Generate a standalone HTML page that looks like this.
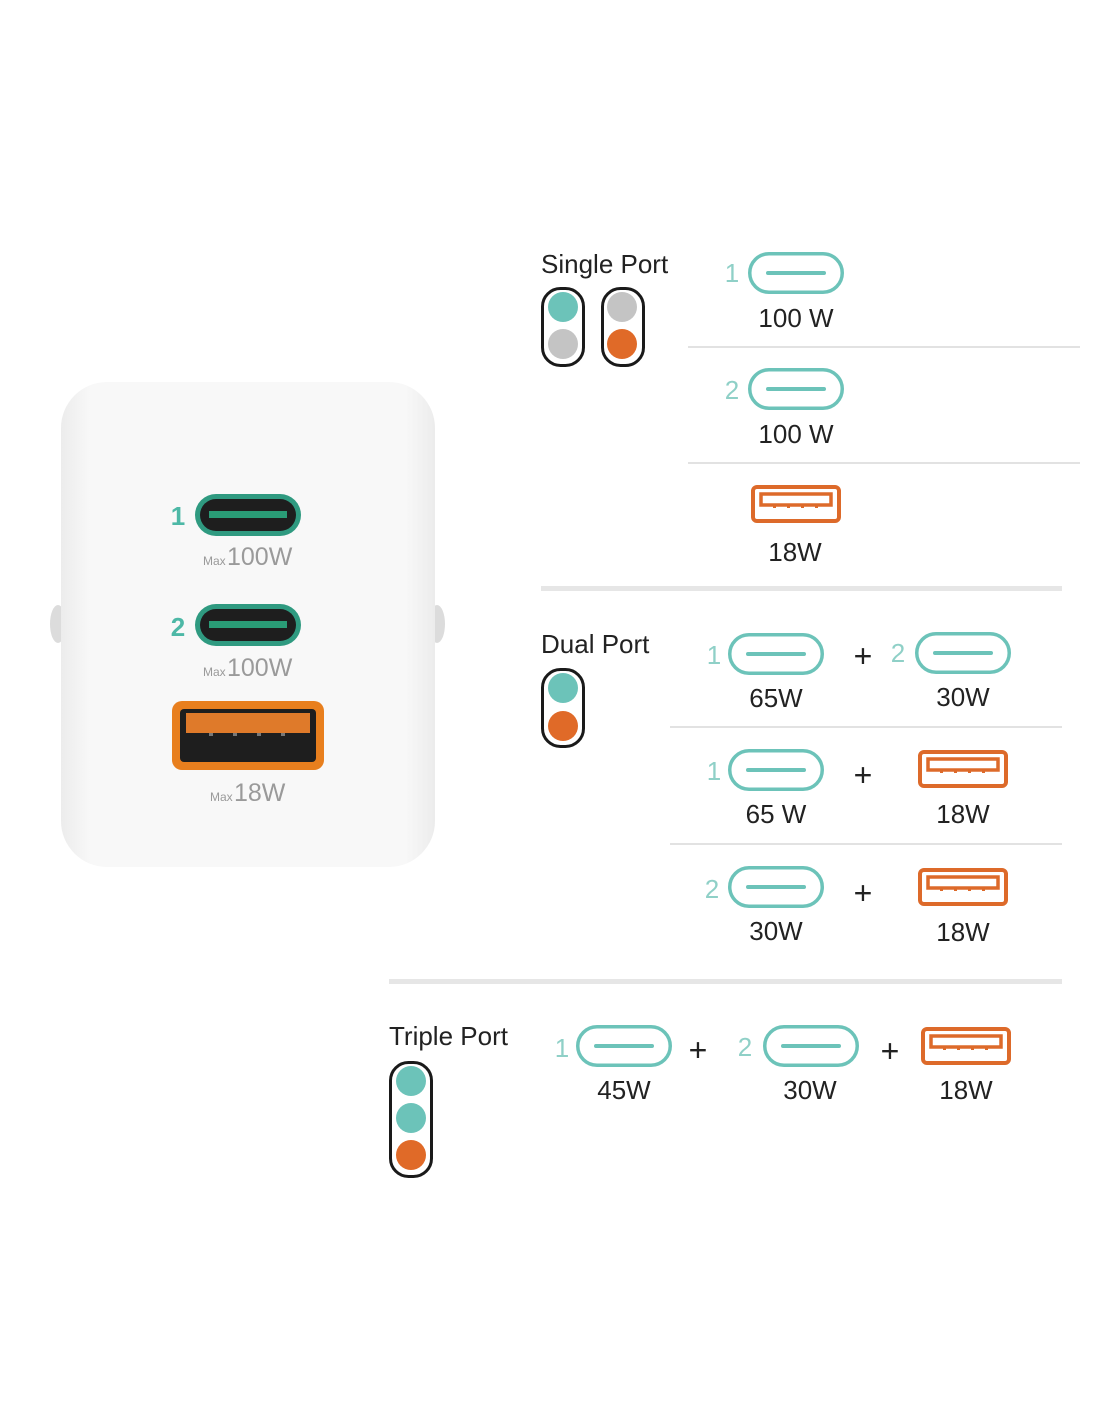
<!DOCTYPE html>
<html><head><meta charset="utf-8"><style>
html,body{margin:0;padding:0;background:#fff;}
svg{display:block}
text{font-family:"Liberation Sans",sans-serif;}
</style></head><body>
<svg width="1100" height="1422" viewBox="0 0 1100 1422" xmlns="http://www.w3.org/2000/svg">
<defs>
<linearGradient id="bg" x1="0" x2="1" y1="0" y2="0">
<stop offset="0" stop-color="#ececec"/><stop offset="0.08" stop-color="#f8f8f8"/><stop offset="0.92" stop-color="#f8f8f8"/><stop offset="1" stop-color="#ececec"/>
</linearGradient>
<g id="uc"><rect x="1.75" y="1.75" width="92.5" height="38.5" rx="19.25" fill="none" stroke="#6cc3b9" stroke-width="3.5"/><line x1="20" y1="21" x2="76" y2="21" stroke="#6cc3b9" stroke-width="4" stroke-linecap="round"/></g>
<g id="ua"><rect x="2" y="2" width="86" height="34" rx="4" fill="none" stroke="#dd6a2a" stroke-width="4"/><rect x="10" y="9" width="70" height="11" fill="none" stroke="#dd6a2a" stroke-width="3.5"/><g fill="#dd6a2a"><rect x="22" y="20" width="3" height="3"/><rect x="36" y="20" width="3" height="3"/><rect x="50" y="20" width="3" height="3"/><rect x="64" y="20" width="3" height="3"/></g></g>
</defs>

<!-- charger -->
<ellipse cx="58" cy="624" rx="8" ry="19" fill="#dcdcdc"/>
<ellipse cx="437" cy="624" rx="8" ry="19" fill="#dcdcdc"/>
<rect x="61" y="382" width="374" height="485" rx="46" fill="url(#bg)"/>
<text x="178" y="525" font-size="26" font-weight="bold" fill="#4db8a6" text-anchor="middle">1</text>
<rect x="195" y="494" width="106" height="42" rx="21" fill="#2f9a80"/>
<rect x="200" y="499" width="96" height="32" rx="16" fill="#1e1e1e"/>
<rect x="209" y="511" width="78" height="7" fill="#2a9c76"/>
<text x="203" y="565" font-size="12" fill="#9a9a9a">Max</text>
<text x="227" y="565" font-size="25" fill="#9a9a9a">100W</text>
<text x="178" y="636" font-size="26" font-weight="bold" fill="#4db8a6" text-anchor="middle">2</text>
<rect x="195" y="604" width="106" height="42" rx="21" fill="#2f9a80"/>
<rect x="200" y="609" width="96" height="32" rx="16" fill="#1e1e1e"/>
<rect x="209" y="621" width="78" height="7" fill="#2a9c76"/>
<text x="203" y="676" font-size="12" fill="#9a9a9a">Max</text>
<text x="227" y="676" font-size="25" fill="#9a9a9a">100W</text>
<rect x="172" y="701" width="152" height="69" rx="10" fill="#e87f1e"/>
<rect x="180" y="709" width="136" height="53" rx="4" fill="#1e1e1e"/>
<rect x="186" y="713" width="124" height="20" fill="#df7a2a"/>
<g fill="#777"><rect x="209" y="733" width="4" height="3"/><rect x="233" y="733" width="4" height="3"/><rect x="257" y="733" width="4" height="3"/><rect x="281" y="733" width="4" height="3"/></g>
<text x="210" y="801" font-size="12" fill="#9a9a9a">Max</text>
<text x="234" y="801" font-size="25" fill="#9a9a9a">18W</text>

<!-- Single -->
<text x="541" y="273" font-size="26" fill="#222">Single Port</text>
<rect x="542.5" y="288.5" width="41" height="77" rx="18" fill="none" stroke="#1a1a1a" stroke-width="3"/>
<circle cx="563" cy="307" r="15" fill="#6cc3b9"/><circle cx="563" cy="344" r="15" fill="#c4c4c4"/>
<rect x="602.5" y="288.5" width="41" height="77" rx="18" fill="none" stroke="#1a1a1a" stroke-width="3"/>
<circle cx="622" cy="307" r="15" fill="#c4c4c4"/><circle cx="622" cy="344" r="15" fill="#e06a28"/>

<text x="732" y="282" font-size="26" fill="#8fd0c7" text-anchor="middle">1</text>
<use href="#uc" x="748" y="252"/>
<text x="796" y="327" font-size="26" fill="#222" text-anchor="middle">100 W</text>
<rect x="688" y="346" width="392" height="2" fill="#e2e2e2"/>
<text x="732" y="399" font-size="26" fill="#8fd0c7" text-anchor="middle">2</text>
<use href="#uc" x="748" y="368"/>
<text x="796" y="443" font-size="26" fill="#222" text-anchor="middle">100 W</text>
<rect x="688" y="462" width="392" height="2" fill="#e2e2e2"/>
<use href="#ua" x="751" y="485"/>
<text x="795" y="561" font-size="26" fill="#222" text-anchor="middle">18W</text>
<rect x="541" y="586" width="521" height="5" fill="#e6e6e6"/>

<!-- Dual -->
<text x="541" y="653" font-size="26" fill="#222">Dual Port</text>
<rect x="542.5" y="669.5" width="41" height="77" rx="18" fill="none" stroke="#1a1a1a" stroke-width="3"/>
<circle cx="563" cy="688" r="15" fill="#6cc3b9"/><circle cx="563" cy="726" r="15" fill="#e06a28"/>

<text x="714" y="664" font-size="26" fill="#8fd0c7" text-anchor="middle">1</text>
<use href="#uc" x="728" y="633"/>
<text x="863" y="667" font-size="32" fill="#222" text-anchor="middle">+</text>
<text x="898" y="662" font-size="26" fill="#8fd0c7" text-anchor="middle">2</text>
<use href="#uc" x="915" y="632"/>
<text x="776" y="707" font-size="26" fill="#222" text-anchor="middle">65W</text>
<text x="963" y="706" font-size="26" fill="#222" text-anchor="middle">30W</text>
<rect x="670" y="726" width="392" height="2" fill="#e2e2e2"/>

<text x="714" y="780" font-size="26" fill="#8fd0c7" text-anchor="middle">1</text>
<use href="#uc" x="728" y="749"/>
<text x="863" y="786" font-size="32" fill="#222" text-anchor="middle">+</text>
<use href="#ua" x="918" y="750"/>
<text x="776" y="823" font-size="26" fill="#222" text-anchor="middle">65 W</text>
<text x="963" y="823" font-size="26" fill="#222" text-anchor="middle">18W</text>
<rect x="670" y="843" width="392" height="2" fill="#e2e2e2"/>

<text x="712" y="898" font-size="26" fill="#8fd0c7" text-anchor="middle">2</text>
<use href="#uc" x="728" y="866"/>
<text x="863" y="904" font-size="32" fill="#222" text-anchor="middle">+</text>
<use href="#ua" x="918" y="868"/>
<text x="776" y="940" font-size="26" fill="#222" text-anchor="middle">30W</text>
<text x="963" y="941" font-size="26" fill="#222" text-anchor="middle">18W</text>
<rect x="389" y="979" width="673" height="5" fill="#e6e6e6"/>

<!-- Triple -->
<text x="389" y="1045" font-size="26" fill="#222">Triple Port</text>
<rect x="390.5" y="1062.5" width="41" height="114" rx="18" fill="none" stroke="#1a1a1a" stroke-width="3"/>
<circle cx="411" cy="1081" r="15" fill="#6cc3b9"/><circle cx="411" cy="1118" r="15" fill="#6cc3b9"/><circle cx="411" cy="1155" r="15" fill="#e06a28"/>

<text x="562" y="1057" font-size="26" fill="#8fd0c7" text-anchor="middle">1</text>
<use href="#uc" x="576" y="1025"/>
<text x="698" y="1061" font-size="32" fill="#222" text-anchor="middle">+</text>
<text x="745" y="1056" font-size="26" fill="#8fd0c7" text-anchor="middle">2</text>
<use href="#uc" x="763" y="1025"/>
<text x="890" y="1062" font-size="32" fill="#222" text-anchor="middle">+</text>
<use href="#ua" x="921" y="1027"/>
<text x="624" y="1099" font-size="26" fill="#222" text-anchor="middle">45W</text>
<text x="810" y="1099" font-size="26" fill="#222" text-anchor="middle">30W</text>
<text x="966" y="1099" font-size="26" fill="#222" text-anchor="middle">18W</text>
</svg>
</body></html>
